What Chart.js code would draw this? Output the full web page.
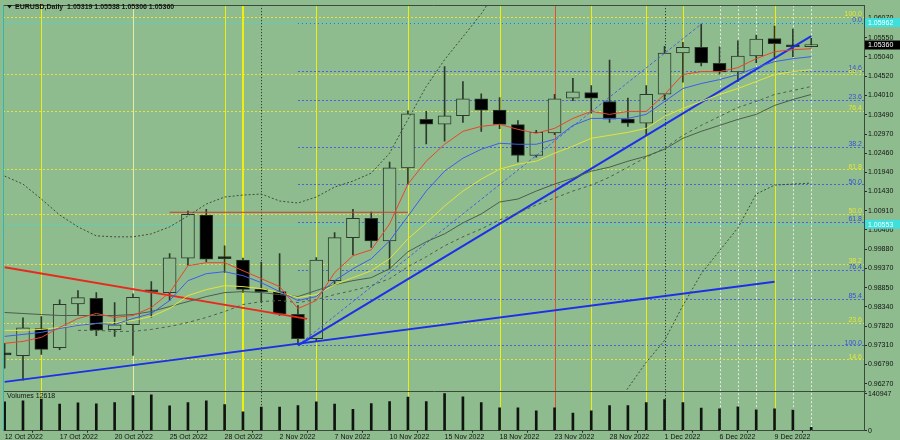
<!DOCTYPE html>
<html>
<head>
<meta charset="utf-8">
<script src="https://cdn.jsdelivr.net/npm/chart.js@4.4.0/dist/chart.umd.min.js"></script>
<style>
  html, body { margin: 0; padding: 0; background: #8fbc8f; }
  #wrap { width: 900px; height: 440px; }
</style>
</head>
<body>
<div id="wrap"><canvas id="chart" width="900" height="440"></canvas></div>
<script>
// Dates shown on the time axis (bar index -> label)
const dateIdx = [0, 3, 6, 9, 12, 15, 18, 21, 24, 27, 30, 33, 36, 39, 42];
const dateLabels = ['12 Oct 2022', '17 Oct 2022', '20 Oct 2022', '25 Oct 2022', '28 Oct 2022',
    '2 Nov 2022', '7 Nov 2022', '10 Nov 2022', '15 Nov 2022', '18 Nov 2022', '23 Nov 2022',
    '28 Nov 2022', '1 Dec 2022', '6 Dec 2022', '9 Dec 2022'];

// Daily candles, 12 Oct - 13 Dec 2022
const opens = [0.97080, 0.97028, 0.97757, 0.97242, 0.98417, 0.98567, 0.97723, 0.97856, 0.98745, 0.98719,
    0.99645, 1.00801, 0.99635, 0.99592, 0.98817, 0.98745, 0.98139, 0.97482, 0.99040, 1.00195,
    1.00713, 1.00107, 1.02065, 1.03365, 1.03240, 1.03464, 1.03918, 1.03613, 1.03223, 1.02396,
    1.02999, 1.03934, 1.04086, 1.03846, 1.03373, 1.03266, 1.04040, 1.05146, 1.05296, 1.04868,
    1.04639, 1.05066, 1.05536, 1.05349, 1.05319];
const highs = [0.97358, 0.98043, 0.98078, 0.98524, 0.98772, 0.98719, 0.98452, 0.98684, 0.99012, 0.99768,
    1.00908, 1.00954, 0.99974, 0.99645, 0.99528, 0.99768, 0.98372, 0.99661, 1.00329, 1.00954,
    1.00882, 1.02217, 1.03597, 1.03579, 1.04780, 1.04380, 1.04051, 1.03952, 1.03330, 1.03071,
    1.04040, 1.04468, 1.04273, 1.04959, 1.03934, 1.04273, 1.05322, 1.05429, 1.05920, 1.05314,
    1.05475, 1.05627, 1.05867, 1.05787, 1.05538];
const lows = [0.96690, 0.96369, 0.97063, 0.97189, 0.98131, 0.97562, 0.97544, 0.97037, 0.98059, 0.98510,
    0.99458, 0.99546, 0.99261, 0.98727, 0.98460, 0.98104, 0.97322, 0.97410, 0.98960, 0.99733,
    0.99928, 0.99352, 1.01621, 1.02705, 1.02778, 1.03285, 1.03045, 1.03117, 1.02225, 1.02351,
    1.02957, 1.03864, 1.03533, 1.03285, 1.03178, 1.02938, 1.03891, 1.04361, 1.04799, 1.04575,
    1.04380, 1.04887, 1.05002, 1.05047, 1.05306];
const closes = [0.97050, 0.97776, 0.97197, 0.98406, 0.98585, 0.97712, 0.97856, 0.98593, 0.98740, 0.99653,
    1.00820, 0.99619, 0.99630, 0.98807, 0.98745, 0.98150, 0.97482, 0.99592, 1.00195, 1.00713,
    1.00107, 1.02065, 1.03517, 1.03240, 1.03464, 1.03918, 1.03613, 1.03231, 1.02396, 1.03018,
    1.03918, 1.04105, 1.03934, 1.03373, 1.03266, 1.04040, 1.05146, 1.05296, 1.04880, 1.04639,
    1.05066, 1.05520, 1.05394, 1.05314, 1.05360];
const volumes = [109600, 113500, 120000, 100600, 105700, 101800, 107000, 133000, 135800, 94000,
    107000, 113500, 99000, 71600, 90000, 90000, 95000, 109600, 100600, 81000,
    103000, 110800, 128000, 110800, 140947, 129000, 107000, 87000, 87000, 75600,
    87000, 66500, 75600, 95000, 95000, 107000, 118600, 107000, 86000, 83400,
    91000, 79500, 83400, 78000, 12618];

// Indicator lines
const maRed = [0.97358, 0.97411, 0.97518, 0.97785, 0.98025, 0.98159, 0.98052, 0.98105, 0.98319, 0.98720,
    0.99441, 0.99521, 0.99521, 0.99307, 0.99094, 0.98880, 0.98292, 0.98506, 0.99254, 0.99708,
    0.99868, 1.00562, 1.01630, 1.02244, 1.02698, 1.03045, 1.03179, 1.03232, 1.03098, 1.02992,
    1.03125, 1.03392, 1.03579, 1.03499, 1.03579, 1.03579, 1.04033, 1.04567, 1.04647, 1.04647,
    1.04754, 1.04994, 1.05181, 1.05234, 1.05261];
const maBlue = [0.97545, 0.97598, 0.97652, 0.97758, 0.97838, 0.97892, 0.97865, 0.98025, 0.98159, 0.98506,
    0.99040, 0.99227, 0.99281, 0.99174, 0.98987, 0.98746, 0.98506, 0.98613, 0.99040, 0.99360,
    0.99627, 1.00108, 1.00771, 1.01443, 1.01977, 1.02324, 1.02564, 1.02725, 1.02698, 1.02698,
    1.02831, 1.03205, 1.03392, 1.03392, 1.03392, 1.03499, 1.03846, 1.04193, 1.04327, 1.04433,
    1.04567, 1.04754, 1.04914, 1.04994, 1.05047];
const maYellow = [0.97706, 0.97706, 0.97732, 0.97785, 0.97838, 0.97892, 0.97919, 0.97972, 0.98079, 0.98292,
    0.98639, 0.98799, 0.98906, 0.98880, 0.98826, 0.98720, 0.98587, 0.98666, 0.98933, 0.99120,
    0.99307, 0.99627, 1.00161, 1.00589, 1.01042, 1.01443, 1.01763, 1.02030, 1.02164, 1.02244,
    1.02458, 1.02645, 1.02858, 1.02938, 1.03018, 1.03125, 1.03445, 1.03659, 1.03846, 1.04033,
    1.04193, 1.04380, 1.04567, 1.04647, 1.04700];
const maGray = [0.98186, 0.98159, 0.98132, 0.98105, 0.98105, 0.98105, 0.98105, 0.98132, 0.98212, 0.98346,
    0.98479, 0.98613, 0.98720, 0.98746, 0.98720, 0.98666, 0.98613, 0.98776, 0.98933, 0.99040,
    0.99120, 0.99360, 0.99815, 1.00083, 1.00295, 1.00589, 1.00829, 1.01149, 1.01229, 1.01443,
    1.01630, 1.01790, 1.01977, 1.02084, 1.02244, 1.02377, 1.02564, 1.02858, 1.03045, 1.03205,
    1.03365, 1.03499, 1.03739, 1.03899, 1.04033];
const maDashed = [null, null, null, null, 0.97706, 0.97706, 0.97679, 0.97679, 0.97732, 0.97812,
    0.97919, 0.98052, 0.98212, 0.98399, 0.98479, 0.98506, 0.98453, 0.98533, 0.98666, 0.98776,
    0.98906, 0.99094, 0.99414, 0.99681, 0.99975, 1.00215, 1.00428, 1.00669, 1.00856, 1.01069,
    1.01256, 1.01443, 1.01603, 1.01817, 1.02084, 1.02351, 1.02591, 1.02938, 1.03205, 1.03445,
    1.03686, 1.03846, 1.04033, 1.04140, 1.04247];
const bandUpper = [1.01844, 1.01630, 1.01229, 1.00802, 1.00482, 1.00241, 1.00215, 1.00215, 1.00295, 1.00482,
    1.00775, 1.01096, 1.01283, 1.01336, 1.01363, 1.01176, 1.01123, 1.01283, 1.01550, 1.01710,
    1.01924, 1.02458, 1.03365, 1.04247, 1.04967, 1.05581, 1.06196, 1.06950, null, null,
    null, null, null, null, null, null, null, null, null, null,
    null, null, null, null, null];
const bandLower = [null, null, null, null, null, null, null, null, null, null,
    null, null, null, null, null, null, null, null, null, null,
    null, null, null, null, null, null, null, null, null, null,
    null, null, null, 0.95400, 0.96156, 0.96851, 0.97438, 0.98373, 0.99227, 0.99841,
    1.00455, 1.01363, 1.01603, 1.01630, 1.01657];

// Trend lines: [fromBar, fromPrice, toBar, toPrice]
const trendUp = [16, 0.97305, 44, 1.05600];
const trendUpDashed = [16, 0.97305, 38, 1.05921];
const trendLong = [0, 0.96325, 42, 0.99008];
const trendDown = [0, 0.99400, 16.5, 0.98015];
const levelRed = [9, 1.00874, 22, 1.00874];

// Axis ticks
const priceTicks = [1.06070, 1.05550, 1.05040, 1.04520, 1.04010, 1.03490, 1.02970, 1.02460, 1.01940, 1.01430,
    1.00910, 1.00400, 0.99880, 0.99370, 0.98850, 0.98340, 0.97820, 0.97310, 0.96790, 0.96270];
const volTicks = [0, 140947];

// Fibonacci levels
const fibYellowNames = ['100.0', '85.4', '76.4', '61.8', '50.0', '38.2', '23.6', '14.6'];
const fibYellowPrices = [1.06115, 1.04593, 1.03597, 1.02022, 1.00836, 0.99485, 0.97909, 0.96929];
const fibBlueNames = ['0.0', '14.6', '23.6', '38.2', '50.0', '61.8', '76.4', '85.4', '100.0'];
const fibBluePrices = [1.05963, 1.04665, 1.03891, 1.02636, 1.01621, 1.00615, 0.99333, 0.98550, 0.97303];
const fibBlueFrom = 16;
const cyanLevels = [1.05962, 1.00553];
const lastPrice = 1.05360;

// Vertical markers (bar indices)
const yellowBars = [2, 7, 12, 13, 17, 22, 27, 32, 35, 37, 42];
const redBars = [30];
const blackDotBars = [14, 36];
const whiteDotBars = [39, 40, 41, 43, 44];

const headerText = 'EURUSD,Daily  1.05319 1.05538 1.05306 1.05360';
const volumeText = 'Volumes 12618';

const BG = '#8fbc8f';
const FONT = '"Liberation Sans", Arial, sans-serif';

const toPts = (arr) => arr.map((v, i) => ({ x: i, y: v }));
const segment = (t) => [{ x: t[0], y: t[1] }, { x: t[2], y: t[3] }];

function lineSet(data, color, width, dash) {
    return {
        type: 'line',
        data: data,
        borderColor: color,
        borderWidth: width,
        borderDash: dash || [],
        pointRadius: 0,
        tension: 0,
        spanGaps: false,
        yAxisID: 'y',
        order: 0
    };
}

// Fib lines, vertical markers, labels and boxes
const decor = {
    id: 'decor',
    beforeDraw(chart) {
        const ctx = chart.ctx;
        ctx.save();
        ctx.fillStyle = BG;
        ctx.fillRect(0, 0, chart.width, chart.height);
        ctx.restore();
    },
    beforeDatasetsDraw(chart) {
        const ctx = chart.ctx;
        const x = chart.scales.x, y = chart.scales.y, yv = chart.scales.yVol;
        ctx.save();

        // horizontal levels in the price pane
        ctx.lineWidth = 1;
        ctx.setLineDash([2, 2]);
        const hline = (price, x0, color) => {
            const py = Math.round(y.getPixelForValue(price)) + 0.5;
            ctx.strokeStyle = color;
            ctx.beginPath();
            ctx.moveTo(x0, py);
            ctx.lineTo(x.right, py);
            ctx.stroke();
        };
        fibYellowPrices.forEach(p => hline(p, x.left, '#e4e43c'));
        fibBluePrices.forEach(p => hline(p, x.getPixelForValue(fibBlueFrom), '#4a62d8'));
        cyanLevels.forEach(p => hline(p, x.left, '#3fdcd0'));

        // vertical markers through both panes
        const vline = (bar, color, width, dash) => {
            const px = Math.round(x.getPixelForValue(bar)) + (width % 2 ? 0.5 : 0);
            ctx.strokeStyle = color;
            ctx.lineWidth = width;
            ctx.setLineDash(dash);
            ctx.beginPath();
            ctx.moveTo(px, y.top);
            ctx.lineTo(px, yv.bottom);
            ctx.stroke();
        };
        yellowBars.forEach(b => vline(b, b === 7 ? '#e6eca0' : '#eeee10', b === 13 ? 2 : 1, []));
        redBars.forEach(b => vline(b, '#e0502c', 1, []));
        blackDotBars.forEach(b => vline(b, '#202020', 1, [1, 2]));
        whiteDotBars.forEach(b => vline(b, '#e4ece0', 1, [2, 2]));
        ctx.restore();
    },
    afterDatasetsDraw(chart) {
        const ctx = chart.ctx;
        const x = chart.scales.x, y = chart.scales.y, yv = chart.scales.yVol;
        ctx.save();

        // fib labels
        ctx.font = '7px ' + FONT;
        ctx.textAlign = 'right';
        ctx.textBaseline = 'bottom';
        fibYellowPrices.forEach((p, i) => {
            ctx.fillStyle = '#e6e632';
            ctx.fillText(fibYellowNames[i], x.right - 2, y.getPixelForValue(p) + 1);
        });
        fibBluePrices.forEach((p, i) => {
            ctx.fillStyle = '#3550d8';
            ctx.fillText(fibBlueNames[i], x.right - 2, y.getPixelForValue(p) + 1);
        });

        // pane frame
        ctx.setLineDash([]);
        ctx.lineWidth = 1;
        ctx.strokeStyle = '#3c4a3c';
        ctx.beginPath();
        ctx.moveTo(x.left, Math.round(y.top) + 0.5);
        ctx.lineTo(x.right, Math.round(y.top) + 0.5);
        ctx.moveTo(x.left, Math.round(y.bottom) + 0.5);
        ctx.lineTo(x.right + 2, Math.round(y.bottom) + 0.5);
        ctx.stroke();
        ctx.strokeStyle = '#2fb8b0';
        ctx.beginPath();
        ctx.moveTo(x.left + 0.5, y.top);
        ctx.lineTo(x.left + 0.5, yv.bottom);
        ctx.stroke();

        // header and volume caption
        ctx.fillStyle = '#141414';
        ctx.beginPath();
        ctx.moveTo(7, 5);
        ctx.lineTo(12, 5);
        ctx.lineTo(9.5, 8.5);
        ctx.closePath();
        ctx.fill();
        ctx.font = 'bold 7px ' + FONT;
        ctx.textAlign = 'left';
        ctx.textBaseline = 'middle';
        ctx.fillText(headerText, 15, 7);
        ctx.font = '7px ' + FONT;
        ctx.fillText(volumeText, 7, yv.top + 5);

        // price boxes on the right axis
        const box = (price, bg, fg) => {
            const py = y.getPixelForValue(price);
            ctx.fillStyle = bg;
            ctx.fillRect(x.right + 1, py - 4.5, 36, 9);
            ctx.fillStyle = fg;
            ctx.fillText(price.toFixed(5), x.right + 4, py + 0.5);
        };
        cyanLevels.forEach(p => box(p, '#3fe0dc', '#f4ffff'));
        box(lastPrice, '#000000', '#ffffff');
        ctx.restore();
    }
};

const bullBear = closes.map((c, i) => c >= opens[i] ? BG : '#000000');

new Chart(document.getElementById('chart'), {
    type: 'bar',
    data: {
        datasets: [
            lineSet(toPts(maRed), '#e8452c', 1),
            lineSet(toPts(maBlue), '#3d5ee8', 1),
            lineSet(toPts(maYellow), '#e2e43a', 1),
            lineSet(toPts(maGray), '#4b5e4b', 1),
            lineSet(toPts(maDashed), '#4e604e', 1, [3, 3]),
            lineSet(toPts(bandUpper), '#3d4d3d', 1, [2, 2]),
            lineSet(toPts(bandLower), '#3d4d3d', 1, [2, 2]),
            lineSet(segment(trendUp), '#1c30e8', 2),
            lineSet(segment(trendUpDashed), '#4a62e0', 1, [3, 2]),
            lineSet(segment(trendLong), '#1c30e8', 2),
            lineSet(segment(trendDown), '#e82a1e', 2),
            lineSet(segment(levelRed), '#d23a22', 1),
            {
                label: 'bodies',
                data: opens.map((o, i) => ({ x: i, y: [o, closes[i]] })),
                backgroundColor: bullBear,
                borderColor: '#2b3a2b',
                borderWidth: 1,
                borderSkipped: false,
                barThickness: 13,
                minBarLength: 2,
                grouped: false,
                yAxisID: 'y',
                order: 1
            },
            {
                label: 'wicks',
                data: lows.map((l, i) => ({ x: i, y: [l, highs[i]] })),
                backgroundColor: '#2b3a2b',
                borderWidth: 0,
                barThickness: 1,
                grouped: false,
                yAxisID: 'y',
                order: 2
            },
            {
                label: 'volume',
                data: toPts(volumes),
                backgroundColor: '#101410',
                borderWidth: 0,
                barThickness: 2,
                grouped: false,
                yAxisID: 'yVol',
                order: 3
            }
        ]
    },
    options: {
        responsive: false,
        devicePixelRatio: 1,
        animation: false,
        layout: { padding: { left: 3, top: 3, right: 0, bottom: 0 } },
        plugins: { legend: { display: false }, tooltip: { enabled: false } },
        scales: {
            x: {
                type: 'linear',
                min: -0.09,
                max: 46.88,
                offset: false,
                position: 'bottom',
                grid: { drawOnChartArea: false, tickLength: 2, color: '#2a2a2a' },
                border: { color: '#3c4a3c' },
                ticks: {
                    autoSkip: false,
                    maxRotation: 0,
                    minRotation: 0,
                    align: 'start',
                    padding: 0,
                    color: '#111111',
                    font: { family: FONT, size: 7 },
                    callback: (v) => dateLabels[dateIdx.indexOf(v)]
                },
                afterBuildTicks: (s) => { s.ticks = dateIdx.map(v => ({ value: v })); },
                afterFit: (s) => { s.height = 9.3; }
            },
            y: {
                type: 'linear',
                position: 'right',
                stack: 'panes',
                stackWeight: 9.77,
                min: 0.96075,
                max: 1.06428,
                grid: { drawOnChartArea: false, tickLength: 3, color: '#2a2a2a' },
                border: { color: '#3c4a3c' },
                ticks: {
                    autoSkip: false,
                    padding: 1,
                    color: '#111111',
                    font: { family: FONT, size: 7 },
                    callback: (v) => v.toFixed(5)
                },
                afterBuildTicks: (s) => { s.ticks = priceTicks.map(v => ({ value: v })); },
                afterFit: (s) => { s.width = 36; }
            },
            yVol: {
                type: 'linear',
                position: 'right',
                stack: 'panes',
                stackWeight: 1,
                min: 0,
                max: 150000,
                grid: { drawOnChartArea: false, tickLength: 3, color: '#2a2a2a' },
                border: { color: '#3c4a3c' },
                ticks: {
                    autoSkip: false,
                    padding: 1,
                    color: '#111111',
                    font: { family: FONT, size: 7 },
                    callback: (v) => String(v)
                },
                afterBuildTicks: (s) => { s.ticks = volTicks.map(v => ({ value: v })); },
                afterFit: (s) => { s.width = 36; }
            }
        }
    },
    plugins: [decor]
});
</script>
</body>
</html>
